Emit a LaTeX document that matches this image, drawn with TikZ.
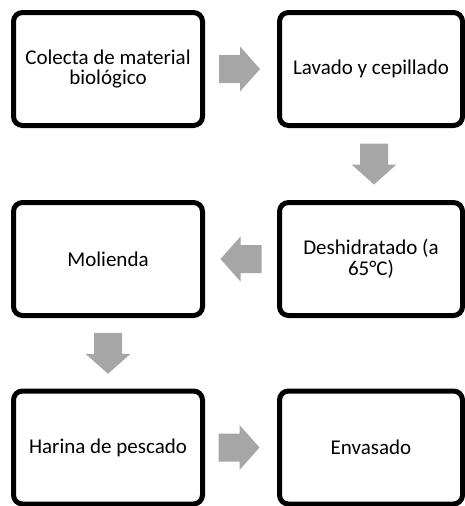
\documentclass[tikz,border=0pt]{standalone}
\usepackage{fontspec}
\setmainfont{Carlito}
\usetikzlibrary{calc}
\definecolor{arrowgray}{RGB}{166,166,166}
\begin{document}
\begin{tikzpicture}[x=1pt,y=1pt,
  stepbox/.style={draw=black, line width=5pt, rounded corners=9pt, fill=white,
    align=center, inner sep=0pt, font=\fontsize{21}{20.5}\selectfont},
  leftbox/.style={stepbox, minimum width=189pt, minimum height=113pt},
  rightbox/.style={stepbox, minimum width=183pt, minimum height=113pt},
  blockarrow/.pic={\fill[arrowgray] (-20.5,-14) -- (0.5,-14) -- (0.5,-22.5) -- (20.5,0)
      -- (0.5,22.5) -- (0.5,14) -- (-20.5,14) -- cycle;}]
\useasboundingbox (0,0) rectangle (465,-506);
\node[leftbox]  (b1) at (108,-69)    {Colecta de material\\biológico};
\node[rightbox] (b2) at (371,-69)    {Lavado y cepillado};
\node[rightbox] (b3) at (371,-259)   {Deshidratado (a\\65°C)};
\node[leftbox]  (b4) at (108,-259)   {Molienda};
\node[leftbox]  (b5) at (108,-447.5) {Harina de pescado};
\node[rightbox] (b6) at (371,-447.5) {Envasado};
\pic at ($(b1.east)!0.5!(b2.west)+(-1.5,0)$) {blockarrow};
\pic[rotate=-90] at ($(b2.south)!0.5!(b3.north)+(3,0)$) {blockarrow};
\pic[rotate=180] at ($(b3.west)!0.5!(b4.east)$) {blockarrow};
\pic[rotate=-90] at ($(b4.south)!0.5!(b5.north)$) {blockarrow};
\pic at ($(b5.east)!0.5!(b6.west)+(-2,0)$) {blockarrow};
\end{tikzpicture}
\end{document}
